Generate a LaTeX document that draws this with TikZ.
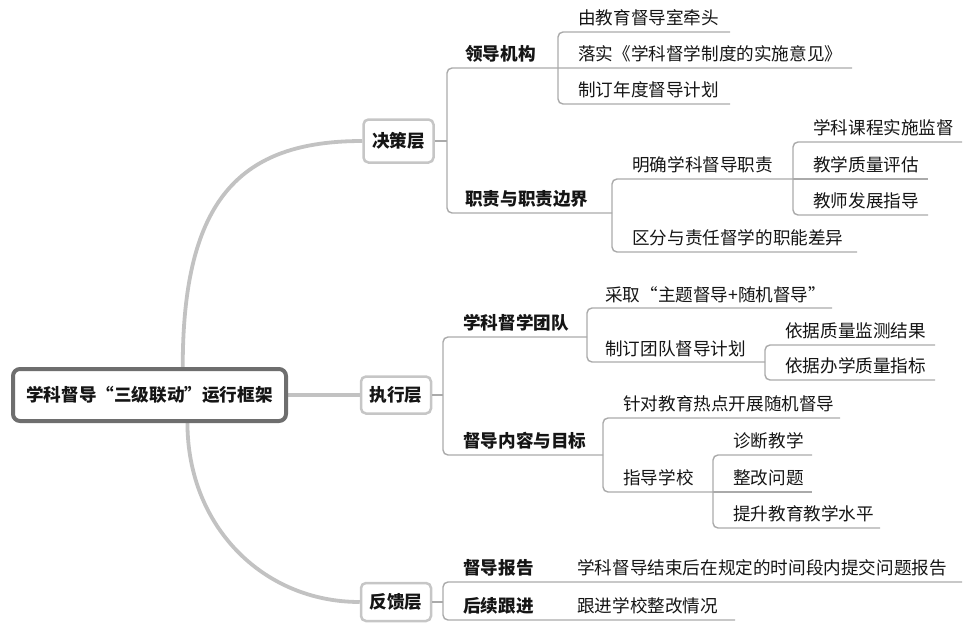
\documentclass[tikz,border=0pt]{standalone}
\usepackage{fontspec}
\setmainfont{Noto Sans CJK SC}
\usetikzlibrary{calc,backgrounds}
\definecolor{conngray}{HTML}{AAAAAA}
\definecolor{boxgray}{HTML}{C6C6C6}
\definecolor{curvegray}{HTML}{C2C2C2}
\definecolor{rootgray}{HTML}{6E6E6E}
\definecolor{txt}{HTML}{151515}
\begin{document}
\begin{tikzpicture}[x=1pt,y=-1pt,
  lf/.style={font=\fontsize{17.6}{20}\selectfont, text=txt, anchor=west, inner sep=0pt},
  lt/.style={lf, font=\fontsize{17.6}{20}\selectfont\bfseries},
  lone/.style={draw=boxgray, line width=2.5pt, rounded corners=5pt, fill=white,
    minimum height=40pt, minimum width=70pt, inner xsep=8pt, text=txt,
    font=\fontsize{17.6}{20}\selectfont\bfseries},
  rootbox/.style={draw=rootgray, line width=4pt, rounded corners=7pt, fill=white,
    minimum height=52pt, minimum width=273pt, text=txt,
    font=\fontsize{17.6}{20}\selectfont\bfseries},
  conn/.style={draw=conngray, line width=1.4pt, rounded corners=5pt},
  curve/.style={draw=curvegray, line width=3.8pt}]
\useasboundingbox (0,0) rectangle (963,624);

% ---------- root and level 1 ----------
\node[rootbox] (root) at (149.5,395) {学科督导“三级联动”运行框架};
\node[lone, minimum height=43pt] (jc) at (398.5,141) {决策层};
\node[lone, minimum height=37pt] (zx) at (396,395) {执行层};
\node[lone, minimum height=38pt] (fk) at (396,602) {反馈层};

\begin{pgfonlayer}{background}
\draw[curve] ($(root.north west)!0.62!(root.north east)$) .. controls +(0,-168) and +(-122,0) .. (jc.west);
\draw[curve] (root.east) -- (zx.west);
\draw[curve] ($(root.south west)!0.637!(root.south east)$) .. controls +(0,103) and +(-97,0) .. (fk.west);
\end{pgfonlayer}

% ---------- level 2 ----------
\node[lt] (n1) at (465,54)  {领导机构};
\node[lt] (n2) at (465,199) {职责与职责边界};
\node[lt] (n3) at (463,323) {学科督学团队};
\node[lt] (n4) at (463,441) {督导内容与目标};
\node[lt] (n5) at (463,568) {督导报告};
\node[lt] (n6) at (463,606) {后续跟进};

% ---------- leaves ----------
\node[lf] (m1)  at (578,18)  {由教育督导室牵头};
\node[lf] (m2)  at (578,54)  {落实《学科督学制度的实施意见》};
\node[lf] (m3)  at (578,90)  {制订年度督导计划};
\node[lf] (m4)  at (632,165) {明确学科督导职责};
\node[lf] (m5)  at (632,238) {区分与责任督学的职能差异};
\node[lf] (m6)  at (813,128) {学科课程实施监督};
\node[lf] (m7)  at (813,165) {教学质量评估};
\node[lf] (m8)  at (813,201) {教师发展指导};
\node[lf] (m9)  at (605,295) {采取“主题督导+随机督导”};
\node[lf] (m10) at (605,349) {制订团队督导计划};
\node[lf] (m11) at (785,331) {依据质量监测结果};
\node[lf] (m12) at (785,366) {依据办学质量指标};
\node[lf] (m13) at (623,404) {针对教育热点开展随机督导};
\node[lf] (m14) at (623,478) {指导学校};
\node[lf] (m15) at (733,441) {诊断教学};
\node[lf] (m16) at (733,478) {整改问题};
\node[lf] (m17) at (733,514) {提升教育教学水平};
\node[lf] (m18) at (577,568) {学科督导结束后在规定的时间段内提交问题报告};
\node[lf] (m19) at (577,606) {跟进学校整改情况};

% ---------- bracket points and underline ends ----------
\coordinate (b1) at (447,141);
\coordinate (b2) at (443,395);
\coordinate (b3) at (443,602);
\coordinate (e1) at (730,32);
\coordinate (e2) at (852,68);
\coordinate (e3) at (730,104);
\coordinate (e4) at (793,179);
\coordinate (e5) at (857,252);
\coordinate (e6) at (962,142);
\coordinate (e7) at (928,179);
\coordinate (e8) at (928,215);
\coordinate (e9) at (832,308);
\coordinate (e10) at (765,362);
\coordinate (e11) at (935,345);
\coordinate (e12) at (935,380);
\coordinate (e13) at (840,418);
\coordinate (e14) at (713,492);
\coordinate (e15) at (812,455);
\coordinate (e16) at (812,492);
\coordinate (e17) at (880,528);
\coordinate (e18) at (962,582);
\coordinate (e19) at (735,620);
\coordinate (n1e) at (558,68);
\coordinate (n2e) at (612,213);
\coordinate (n3e) at (587,337);
\coordinate (n4e) at (603,455);

% ---------- connectors ----------
% 决策层
\draw[conn] (jc.east) -- (b1);
\draw[conn] (e2) -| (b1) |- (n2e);
\draw[conn] (e1) -| (n1e) |- (e3);
\draw[conn] (e4) -| (n2e) |- (e5);
\draw[conn] (e6) -| (e4) |- (e8);
\draw[conn] (e4) -- (e7);
% 执行层
\draw[conn] (zx.east) -- (b2);
\draw[conn] (n3e) -| (b2) |- (n4e);
\draw[conn] (e9) -| (n3e) |- (e10);
\draw[conn] (e11) -| (e10) |- (e12);
\draw[conn] (e13) -| (n4e) |- (e14);
\draw[conn] (e15) -| (e14) |- (e17);
\draw[conn] (e14) -- (e16);
% 反馈层
\draw[conn] (fk.east) -- (b3);
\draw[conn] (e18) -| (b3) |- (e19);
\end{tikzpicture}
\end{document}
